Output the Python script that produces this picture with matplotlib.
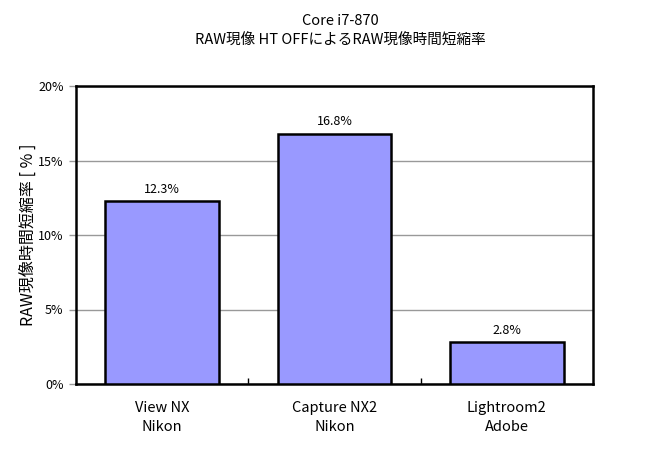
import matplotlib
matplotlib.use("Agg")
import matplotlib.pyplot as plt
import numpy as np
from matplotlib.ticker import FixedLocator

plt.rcParams['font.family'] = ['Noto Sans CJK JP', 'DejaVu Sans']

categories = ["View NX\nNikon", "Capture NX2\nNikon", "Lightroom2\nAdobe"]
values = [12.3, 16.8, 2.8]
labels = ["12.3%", "16.8%", "2.8%"]
yticks = [0, 5, 10, 15, 20]
title = "Core i7-870\nRAW現像 HT OFFによるRAW現像時間短縮率"
ylabel = "RAW現像時間短縮率 [ % ]"

fig = plt.figure(figsize=(6.53, 4.51), dpi=100)
ax = fig.add_axes([76/653, 1-384/451, (593-76)/653, (384-86)/451])

x = np.arange(len(categories))
bars = ax.bar(x, values, width=0.66, color="#9999FF", edgecolor="black", linewidth=1.8, zorder=3)
for xi, v, lab in zip(x, values, labels):
    ax.text(xi, v + 0.35, lab, ha="center", va="bottom", fontsize=9, zorder=4)

ax.set_xlim(-0.5, len(categories) - 0.5)
ax.set_ylim(0, 20)
ax.set_yticks(yticks)
ax.set_yticklabels([f"{t}%" for t in yticks], fontsize=9)
ax.yaxis.grid(True, color="#999999", linewidth=1, zorder=0)
ax.tick_params(axis="y", direction="out", length=5, color="#999999", width=1, pad=4)

ax.set_xticks(x)
ax.set_xticklabels(categories, fontsize=10.5, linespacing=1.45)
ax.tick_params(axis="x", length=0, pad=12)
ax.xaxis.set_minor_locator(FixedLocator([0.5, 1.5]))
ax.tick_params(axis="x", which="minor", direction="in", length=4, width=1, color="black")

for s in ax.spines.values():
    s.set_linewidth(1.8)
    s.set_color("black")

ax.set_ylabel(ylabel, fontsize=11.5, labelpad=1)
fig.text(340/653, 1-31/451, title, ha="center", va="center", fontsize=10.5, linespacing=1.55)

fig.savefig("out.png", dpi=100)
